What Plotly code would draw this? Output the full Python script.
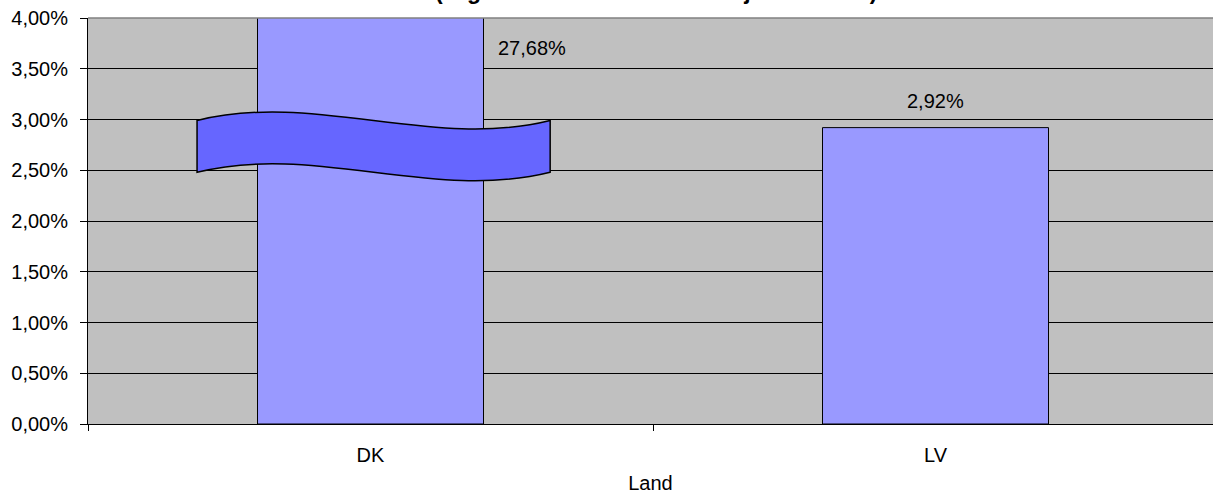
import plotly.graph_objects as go

# ---- data ----
countries = ["DK", "LV"]
values = [0.2768, 0.0292]          # share (fraction)
x_title = "Land"
subtitle = "(Ergebnisse des ersten Halbjahres 2008)"
y_ticks = [0.0, 0.005, 0.01, 0.015, 0.02, 0.025, 0.03, 0.035, 0.04]

FONT = "Liberation Sans, Arial, sans-serif"
xpos = list(range(len(countries)))

def pct(v):
    return f"{v*100:.2f}%".replace(".", ",")

fig = go.Figure()
fig.add_trace(go.Bar(
    x=xpos, y=values, width=0.4,
    marker=dict(color="#9999FF", line=dict(color="#000000", width=1)),
    hoverinfo="skip", showlegend=False,
))

# data labels
fig.add_annotation(x=xpos[0] + 0.286, y=0.037, xref="x", yref="y",
                   text=pct(values[0]), showarrow=False,
                   font=dict(family=FONT, size=20, color="#000"))
fig.add_annotation(x=xpos[1], y=values[1], xref="x", yref="y",
                   text=pct(values[1]), showarrow=False, yanchor="bottom",
                   yshift=14, font=dict(family=FONT, size=20, color="#000"))

# axis-break ribbon over the DK bar
x0, x1 = xpos[0] - 0.307, xpos[0] + 0.318
cx1, cx2 = xpos[0] - 0.099, xpos[0] + 0.110
yt, yb, a = 0.0299, 0.0248, 0.0029
path = (f"M {x0},{yt} C {cx1},{yt+a} {cx2},{yt-a} {x1},{yt} "
        f"L {x1},{yb} C {cx2},{yb-a} {cx1},{yb+a} {x0},{yb} Z")
fig.add_shape(type="path", path=path, xref="x", yref="y",
              fillcolor="#6666FF", line=dict(color="#000000", width=1.5),
              layer="above")

# plot top border (grey)
fig.add_shape(type="line", xref="paper", yref="paper", x0=0, x1=1, y0=1, y1=1,
              line=dict(color="#808080", width=1.5))

# cut-off title line
fig.add_annotation(x=0.505, y=1, xref="paper", yref="paper", yanchor="bottom",
                   yshift=12, text=f"<b>{subtitle}</b>", showarrow=False,
                   font=dict(family=FONT, size=23, color="#000"))

fig.update_layout(
    width=1213, height=495,
    margin=dict(l=88, r=0, t=18, b=71),
    paper_bgcolor="#FFFFFF", plot_bgcolor="#C0C0C0",
    separators=",.",
    font=dict(family=FONT, size=20, color="#000"),
    bargap=0.6,
)
fig.update_xaxes(
    range=[-0.5, -0.5 + 1125 / 565],
    tickmode="array", tickvals=xpos, ticktext=countries,
    ticks="", showgrid=False, zeroline=False,
    showline=True, linecolor="#000000", linewidth=1,
    minor=dict(tickmode="array", tickvals=[-0.5, 0.5, 1.5], ticks="outside",
               ticklen=6, tickcolor="#000000", showgrid=False),
    ticklabelstandoff=13,
    title=dict(text=x_title, standoff=10, font=dict(size=20)),
    tickfont=dict(size=20),
)
fig.update_yaxes(
    range=[0, 0.04], tickmode="array", tickvals=y_ticks, tickformat=".2%",
    ticks="outside", ticklen=7, tickcolor="#000000",
    showgrid=True, gridcolor="#000000", gridwidth=1, zeroline=False,
    showline=True, linecolor="#000000", linewidth=1,
    ticklabelstandoff=8, tickfont=dict(size=20),
)

fig.write_html("out.html",
               config={"displayModeBar": False},
               post_script="document.body.style.margin='0';"
                           "document.body.style.overflow='hidden';")
